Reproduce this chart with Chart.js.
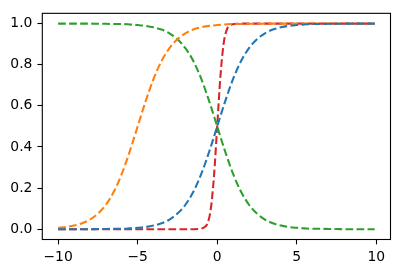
<!DOCTYPE html>
<html><head><meta charset="utf-8">
<script src="https://cdn.jsdelivr.net/npm/chart.js@4/dist/chart.umd.min.js"></script>
<style>html,body{margin:0;padding:0;background:#fff}#wrap{width:400px;height:274px}</style>
</head><body><div id="wrap"><canvas id="c" width="400" height="274"></canvas></div>
<script>
const xs = [-10,-9.5,-9,-8.5,-8,-7.5,-7,-6.5,-6,-5.5,-5,-4.5,-4,-3.5,-3,-2.5,-2,-1.5,-1,-0.5,0,0.5,1,1.5,2,2.5,3,3.5,4,4.5,5,5.5,6,6.5,7,7.5,8,8.5,9,9.5,9.9];
const blueY = [0,0,0,0,0,0.001,0.001,0.002,0.002,0.004,0.007,0.011,0.018,0.029,0.047,0.076,0.119,0.182,0.269,0.378,0.5,0.622,0.731,0.818,0.881,0.924,0.953,0.971,0.982,0.989,0.993,0.996,0.998,0.998,0.999,0.999,1,1,1,1,1];
const orangeY = [0.007,0.011,0.018,0.029,0.047,0.076,0.119,0.182,0.269,0.378,0.5,0.622,0.731,0.818,0.881,0.924,0.953,0.971,0.982,0.989,0.993,0.996,0.998,0.998,0.999,0.999,1,1,1,1,1,1,1,1,1,1,1,1,1,1,1];
const greenY = [1,1,1,1,1,0.999,0.999,0.998,0.998,0.996,0.993,0.989,0.982,0.971,0.953,0.924,0.881,0.818,0.731,0.622,0.5,0.378,0.269,0.182,0.119,0.076,0.047,0.029,0.018,0.011,0.007,0.004,0.002,0.002,0.001,0.001,0,0,0,0,0];
const redX = [-10,-8,-6,-4,-2,-1.2,-1,-0.8,-0.6,-0.4,-0.2,0,0.2,0.4,0.6,0.8,1,1.2,2,4,6,8,9.9];
const redY = [0,0,0,0,0,0.001,0.003,0.01,0.03,0.1,0.26,0.5,0.74,0.9,0.97,0.99,0.997,0.999,1,1,1,1,1];
const xTicks = [-10,-5,0,5,10];
const yTicks = [0,0.2,0.4,0.6,0.8,1.0];

const pts = (X, Y) => X.map((x, i) => ({x: x, y: Y[i]}));
const ds = (X, Y, color) => ({
  data: pts(X, Y), borderColor: color, backgroundColor: color,
  borderWidth: 2.08, borderDash: [7.7, 3.33], pointRadius: 0,
  cubicInterpolationMode: 'monotone', fill: false
});

const frame = {
  id: 'frame',
  afterDraw(chart) {
    const a = chart.chartArea, ctx = chart.ctx;
    ctx.save();
    ctx.strokeStyle = '#000'; ctx.lineWidth = 1.1;
    ctx.strokeRect(a.left, a.top, a.right - a.left, a.bottom - a.top);
    ctx.restore();
  }
};

const font = {family: 'DejaVu Sans', size: 13.9};
new Chart(document.getElementById('c'), {
  type: 'line',
  data: { datasets: [
    ds(xs, blueY, '#1f77b4'),
    ds(xs, orangeY, '#ff7f0e'),
    ds(xs, greenY, '#2ca02c'),
    ds(redX, redY, '#d62728')
  ]},
  options: {
    responsive: false, animation: false, devicePixelRatio: 1,
    layout: {padding: {top: 9, right: 9.5, left: 0, bottom: 0}},
    plugins: {legend: {display: false}, tooltip: {enabled: false}},
    scales: {
      x: {
        type: 'linear', min: -10.995, max: 10.895,
        afterBuildTicks: s => { s.ticks = xTicks.map(v => ({value: v})); },
        afterFit: s => { s.height = 34.5; },
        border: {display: false},
        grid: {drawOnChartArea: false, drawTicks: true, tickLength: 4.86, color: '#000', tickWidth: 1.1},
        ticks: {color: '#000', font: font, padding: 4.5, maxRotation: 0,
          callback: v => String(v).replace('-', '\u2212')}
      },
      y: {
        type: 'linear', min: -0.05, max: 1.05,
        afterBuildTicks: s => { s.ticks = yTicks.map(v => ({value: v})); },
        afterFit: s => { s.width = 42.3; },
        border: {display: false},
        grid: {drawOnChartArea: false, drawTicks: true, tickLength: 4.86, color: '#000', tickWidth: 1.1},
        ticks: {color: '#000', font: font, padding: 5,
          callback: v => Number(v).toFixed(1)}
      }
    }
  },
  plugins: [frame]
});
</script></body></html>
